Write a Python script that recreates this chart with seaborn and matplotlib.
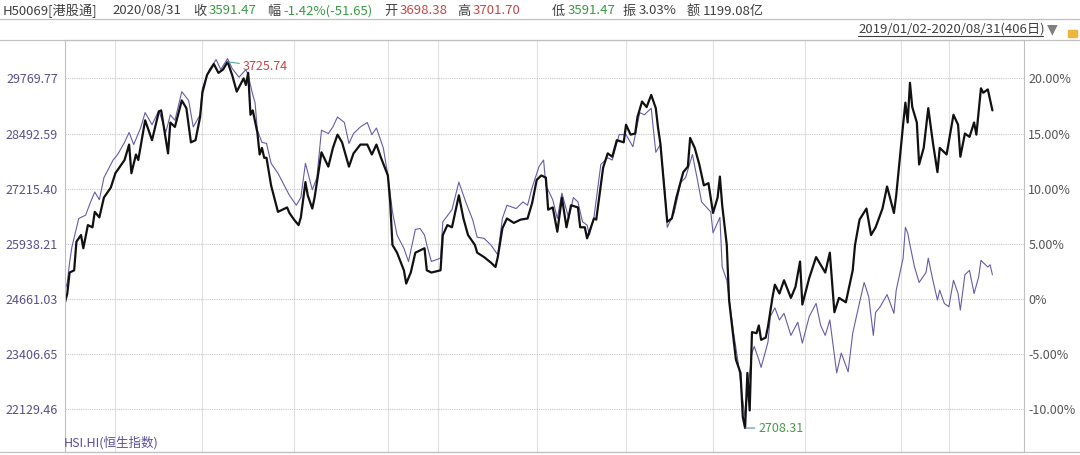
import matplotlib
matplotlib.use("Agg")
import matplotlib.pyplot as plt
import seaborn as sns
import pandas as pd
from matplotlib.lines import Line2D
from matplotlib.patches import Rectangle

# H50069 (black) - cumulative change, % , by trading day
h_day = [0, 1, 2, 4, 5, 7, 8, 10, 12, 13,
         15, 17, 20, 22, 23, 26, 28, 29, 31, 32,
         35, 38, 41, 42, 45, 46, 48, 51, 53, 55,
         57, 59, 60, 62, 65, 67, 69, 71, 72, 73,
         75, 76, 78, 79, 80, 81, 82, 84, 85, 86,
         87, 88, 90, 93, 95, 97, 98, 100, 102, 103,
         105, 106, 108, 109, 112, 115, 117, 119, 121, 124,
         126, 129, 132, 134, 136, 138, 141, 142, 143, 145,
         148, 149, 151, 153, 157, 158, 160, 164, 165, 167,
         169, 172, 174, 176, 179, 180, 183, 186, 188, 189,
         191, 193, 196, 199, 202, 204, 206, 208, 210, 211,
         213, 215, 217, 219, 221, 224, 225, 227, 228, 231,
         232, 235, 237, 239, 241, 244, 245, 247, 249, 250,
         252, 254, 256, 258, 259, 260, 262, 263, 265, 267,
         270, 272, 273, 275, 277, 279, 281, 283, 285, 286,
         287, 289, 290, 293, 295, 296, 297, 298, 299, 300,
         302, 303, 304, 306, 307, 309, 310, 312, 314, 317,
         319, 321, 322, 325, 328, 330, 332, 334, 336, 338,
         341, 344, 345, 347, 350, 352, 354, 357, 359, 362,
         363, 366, 367, 368, 369, 370, 372, 373, 375, 377,
         379, 381, 382, 385, 388, 390, 391, 393, 395, 397,
         398, 400, 401, 403, 405]
h_pct = [-0.3, 0.5, 2.4, 2.6, 5.2, 5.8, 4.6, 6.7, 6.5, 7.9,
         7.4, 9.2, 10.1, 11.4, 11.7, 12.6, 14.0, 11.4, 13.1, 12.6,
         16.2, 14.4, 17.0, 17.1, 13.2, 16.0, 15.6, 18.0, 17.3, 14.2,
         14.4, 16.5, 18.7, 20.3, 21.3, 20.5, 20.8, 21.5, 20.9, 20.3,
         18.8, 19.2, 20.0, 19.4, 20.5, 16.7, 17.1, 15.1, 13.1, 13.7,
         12.8, 12.8, 10.3, 7.9, 8.1, 8.3, 7.8, 7.2, 6.7, 7.4,
         10.6, 9.4, 8.2, 9.2, 13.3, 12.0, 13.7, 14.9, 14.2, 12.0,
         13.2, 14.0, 14.0, 13.1, 14.0, 12.8, 11.2, 8.8, 4.9, 4.2,
         2.6, 1.4, 2.4, 4.2, 4.6, 2.6, 2.4, 2.6, 5.8, 6.7,
         6.5, 9.4, 7.3, 5.8, 4.9, 4.2, 3.8, 3.3, 2.9, 3.8,
         6.4, 7.3, 6.9, 7.2, 7.3, 8.7, 10.8, 11.2, 11.0, 8.1,
         8.3, 6.1, 9.2, 6.5, 8.5, 8.3, 6.5, 6.5, 5.5, 7.3,
         7.2, 11.9, 13.2, 12.9, 14.4, 14.2, 15.8, 14.9, 15.0, 16.5,
         17.9, 17.4, 18.5, 17.3, 15.5, 14.1, 9.4, 7.0, 7.3, 9.2,
         11.5, 12.0, 14.6, 13.7, 12.2, 10.3, 10.5, 7.8, 9.2, 11.1,
         8.5, 4.9, -0.1, -5.5, -6.7, -10.7, -11.7, -6.7, -10.1, -3.0,
         -3.1, -2.4, -3.7, -3.5, -2.5, 0.2, 1.3, 0.5, 1.7, 0.1,
         1.1, 3.4, -0.5, 1.9, 3.8, 3.1, 2.4, 4.2, -1.2, 0.1,
         -0.3, 2.6, 4.9, 7.2, 8.2, 5.8, 6.5, 8.2, 10.2, 7.8,
         9.4, 15.8, 17.8, 16.0, 19.6, 17.4, 16.0, 12.2, 13.7, 17.3,
         14.2, 11.5, 13.7, 13.1, 16.7, 15.8, 12.9, 15.0, 14.7, 16.0,
         14.9, 19.1, 18.7, 19.0, 17.1]

# HSI.HI (purple)
hsi_day = [0, 1, 2, 3, 6, 9, 11, 13, 15, 17,
           21, 23, 26, 28, 30, 33, 35, 38, 41, 44,
           46, 48, 51, 54, 56, 59, 60, 63, 66, 68,
           71, 73, 76, 79, 80, 82, 83, 84, 86, 88,
           90, 93, 95, 98, 101, 103, 105, 108, 110, 112,
           115, 117, 119, 122, 124, 126, 129, 132, 134, 136,
           139, 141, 143, 145, 148, 150, 153, 155, 157, 158,
           160, 164, 165, 169, 172, 175, 178, 180, 183, 186,
           189, 191, 193, 197, 200, 202, 204, 207, 209, 210,
           213, 215, 217, 220, 222, 224, 226, 228, 229, 231,
           234, 237, 239, 242, 245, 248, 251, 253, 256, 258,
           260, 262, 263, 266, 269, 271, 274, 276, 278, 282,
           283, 286, 287, 289, 292, 294, 296, 297, 298, 300,
           301, 303, 304, 307, 308, 310, 312, 314, 317, 320,
           322, 325, 328, 330, 332, 334, 337, 339, 342, 344,
           347, 349, 351, 353, 354, 356, 359, 362, 363, 366,
           367, 368, 369, 371, 373, 376, 377, 379, 381, 382,
           384, 386, 388, 390, 391, 393, 395, 397, 399, 400,
           403, 404, 405]
hsi_pct = [0.8, 1.5, 3.3, 4.7, 7.3, 7.6, 8.7, 9.7, 9.0, 11.0,
           12.6, 13.1, 14.2, 15.1, 14.0, 15.5, 16.9, 15.8, 17.1, 15.1,
           16.7, 16.2, 18.8, 18.0, 15.6, 16.7, 19.1, 20.8, 21.7, 20.8,
           21.8, 20.9, 20.1, 20.8, 20.3, 18.5, 17.8, 15.3, 14.2, 14.1,
           12.3, 11.4, 10.6, 9.4, 8.5, 9.2, 12.3, 9.9, 11.0, 15.3,
           15.0, 15.6, 16.5, 16.0, 14.1, 15.0, 15.6, 16.0, 14.9, 15.5,
           13.7, 11.2, 7.9, 5.8, 4.6, 3.4, 6.3, 6.4, 5.8, 4.9,
           3.4, 3.7, 7.0, 8.1, 10.6, 8.8, 7.2, 5.6, 5.5, 4.9,
           4.0, 7.3, 8.5, 8.2, 8.8, 8.5, 10.1, 12.0, 12.6, 10.3,
           9.0, 7.3, 9.6, 7.3, 9.2, 8.8, 7.0, 6.7, 5.8, 7.4,
           12.2, 12.8, 12.6, 14.9, 14.9, 13.8, 16.9, 16.7, 17.3, 13.3,
           14.0, 9.7, 6.5, 7.8, 10.6, 11.0, 13.1, 11.0, 8.8, 7.9,
           6.0, 7.4, 2.9, 1.7, -3.1, -5.8, -9.2, -10.8, -8.5, -4.9,
           -4.3, -5.5, -6.2, -3.9, -1.6, -0.8, -1.9, -1.3, -3.3, -2.1,
           -4.0, -1.6, -0.4, -2.4, -3.3, -1.9, -6.7, -4.9, -6.6, -3.1,
           -0.3, 1.5, 0.2, -3.3, -1.2, -0.7, 0.4, -1.3, 0.8, 3.7,
           6.5, 6.0, 4.9, 2.9, 1.5, 2.4, 3.7, 1.7, -0.1, 0.8,
           -0.4, -0.7, 1.7, 0.5, -1.0, 2.2, 2.6, 0.5, 2.0, 3.5,
           2.9, 3.1, 2.2]

pct_ticks = [20, 15, 10, 5, 0, -5, -10]
left_labels = ["29769.77", "28492.59", "27215.40", "25938.21", "24661.03", "23406.65", "22129.46"]
right_labels = ["20.00%", "15.00%", "10.00%", "5.00%", "0%", "-5.00%", "-10.00%"]
grid_days = [22, 60, 100, 141, 163, 206, 245, 283, 323, 365, 386]

peak_day, peak_pct, peak_label = 71, 21.5, "3725.74"
low_day, low_pct, low_label = 297, -11.7, "2708.31"

header_text = ["H50069[港股通]", "2020/08/31", "收", "3591.47", "幅", "-1.42%(-51.65)",
               "开", "3698.38", "高", "3701.70", "低", "3591.47", "振", "3.03%", "额", "1199.08亿"]
header_x = [3, 112, 193, 209, 267, 283, 384, 400, 457, 473, 552, 568, 623, 639, 687, 703]
GREEN, RED, DARK = "#3a9a44", "#c44848", "#404040"
header_col = [DARK, DARK, DARK, GREEN, DARK, GREEN, DARK, RED, DARK, RED,
              DARK, GREEN, DARK, DARK, DARK, DARK]

sns.set_style("white")
plt.rcParams["font.family"] = ["Noto Sans CJK SC", "DejaVu Sans"]

W, H = 1080, 455
fig = plt.figure(figsize=(10.8, 4.55), dpi=100)
ax = fig.add_axes([65 / W, 1 - 452 / H, (1024 - 65) / W, (452 - 40) / H])

df_h = pd.DataFrame({"day": h_day, "pct": h_pct})
df_hsi = pd.DataFrame({"day": hsi_day, "pct": hsi_pct})

sns.lineplot(data=df_hsi, x="day", y="pct", ax=ax, color="#6a5aa8", linewidth=0.8, errorbar=None)
sns.lineplot(data=df_h, x="day", y="pct", ax=ax, color="#111111", linewidth=1.6, errorbar=None)

ax.set_xlim(0, 418.8)
ax.set_ylim(-13.87, 23.48)
ax.set_xlabel("")
ax.set_ylabel("")

ax.set_xticks(grid_days)
ax.set_xticklabels([])
ax.set_yticks(pct_ticks)
ax.set_yticklabels(left_labels, fontsize=9, color="#5b4f8a")
ax.tick_params(axis="both", length=0)
ax.tick_params(axis="y", pad=5)
ax.grid(axis="y", color="#c8c8c8", linestyle=(0, (1, 1)), linewidth=0.8)
ax.grid(axis="x", color="#e0e0e0", linestyle="-", linewidth=0.8)
ax.set_axisbelow(True)
for s in ax.spines.values():
    s.set_color("#c0c0c0")
    s.set_linewidth(0.8)

ax2 = ax.twinx()
ax2.set_ylim(ax.get_ylim())
ax2.set_yticks(pct_ticks)
ax2.set_yticklabels(right_labels, fontsize=9, color="#555555")
ax2.tick_params(axis="y", length=0, pad=3)
for s in ax2.spines.values():
    s.set_visible(False)

# max / min markers
ax.annotate(peak_label, xy=(peak_day, peak_pct), xytext=(15, -5), textcoords="offset pixels",
            fontsize=9, color="#c44848", va="center", ha="left",
            arrowprops=dict(arrowstyle="-", color="#5aa8a8", lw=0.8, shrinkA=0, shrinkB=0))
ax.annotate(low_label, xy=(low_day, low_pct), xytext=(13, 0), textcoords="offset pixels",
            fontsize=9, color="#4a9a4a", va="center", ha="left",
            arrowprops=dict(arrowstyle="-", color="#5a8ab8", lw=0.8, shrinkA=0, shrinkB=0))

# header
for txt, x, c in zip(header_text, header_x, header_col):
    fig.text(x / W, 1 - 11 / H, txt, fontsize=9.5, color=c, va="center", ha="left")

for yy in (19, 40, 452):
    fig.add_artist(Line2D([0, 1], [1 - yy / H, 1 - yy / H], color="#c0c0c0", lw=0.9))

fig.text(858 / W, 1 - 29 / H, "2019/01/02-2020/08/31(406日)", fontsize=9.5, color="#404040",
         va="center", ha="left")
fig.add_artist(Line2D([858 / W, 1043 / W], [1 - 36 / H, 1 - 36 / H], color="#404040", lw=0.8))
fig.text(1047 / W, 1 - 29 / H, "▼", fontsize=10, color="#808080", va="center", ha="left",
         family="DejaVu Sans")
fig.add_artist(Rectangle((1068 / W, 1 - 37 / H), 9 / W, 7 / H, color="#f0b43c",
                         transform=fig.transFigure))

fig.text(64 / W, 1 - 443 / H, "HSI.HI(恒生指数)", fontsize=9, color="#5b4f9a", va="center", ha="left")

fig.savefig("out.png", dpi=100)
